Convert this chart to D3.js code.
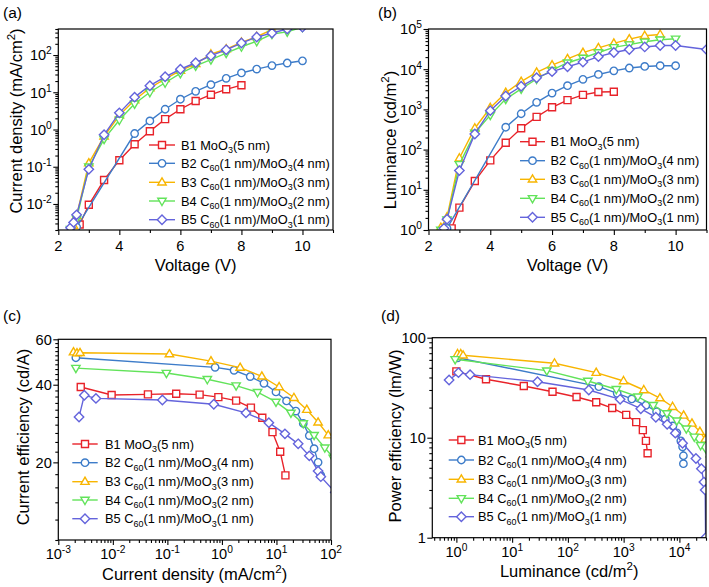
<!DOCTYPE html>
<html><head><meta charset="utf-8">
<script src="https://cdn.jsdelivr.net/npm/d3@7"></script>
<style>body{margin:0;background:#fff} text{font-family:"Liberation Sans",Arial,sans-serif;fill:#000}</style>
</head><body>
<script>
// ---------- DATA ----------
const legendLabels = [
  [["B1 MoO",""],["3","sub"],["(5 nm)",""]],
  [["B2 C",""],["60","sub"],["(1 nm)/MoO",""],["3","sub"],["(4 nm)",""]],
  [["B3 C",""],["60","sub"],["(1 nm)/MoO",""],["3","sub"],["(3 nm)",""]],
  [["B4 C",""],["60","sub"],["(1 nm)/MoO",""],["3","sub"],["(2 nm)",""]],
  [["B5 C",""],["60","sub"],["(1 nm)/MoO",""],["3","sub"],["(1 nm)",""]]
];
const colors = ["#e8232a","#3d7cc9","#f8b500","#62e35a","#6464dc"];

// (a) J-V
const aV1=[2.7,3,3.5,4,4.5,5,5.5,6,6.5,7,7.5,8];
const aJ1=[0.0028,0.0095,0.044,0.15,0.4,0.9,1.9,3.5,5.8,8.6,12,15.5];
const aV2=[2.6,4.5,5,5.5,6,6.5,7,7.5,8,8.5,9,9.5,10];
const aJ2=[0.0024,0.78,1.7,3.5,6.5,10.6,16,23.7,33,42,52,61,70];
const aV3=[2.4,2.5,2.6,3,3.5,4,4.5,5,5.5,6,6.5,7,7.5,8,8.5,9,9.5];
const aJ3=[0.0019,0.0026,0.0048,0.125,0.65,2.4,6.2,13,23,38,58,105,145,220,310,480,620];
const aV4=[2.4,2.6,3,3.5,4,4.5,5,5.5,6,6.5,7,7.5,8,8.5,9,9.5,10];
const aJ4=[0.0021,0.004,0.1,0.55,1.8,4.9,10,18,32,51,75,113,167,233,366,420,560];
const aV5=[2.4,2.5,2.6,3,3.5,4,4.5,5,5.5,6,6.5,7,7.5,8,8.5,9,9.5,10];
const aJ5=[0.0023,0.0032,0.0051,0.085,0.72,2.8,7.4,15,26,41.5,62,96,138,210,304,390,500,560];

// (b) L-V
const bV1=[2.75,3,3.5,4,4.5,5,5.5,6,6.5,7,7.5,8];
const bL1=[1.1,3.6,16.5,54,148,340,650,1130,1700,2300,2700,2750];
const bV2=[2.6,4.5,5,5.5,6,6.5,7,7.5,8,8.5,9,9.5,10];
const bL2=[1.1,360,780,1500,2550,3900,5600,7400,9100,10700,11700,12200,12200];
const bV3=[2.4,2.6,3,3.5,4,4.5,5,5.5,6,6.5,7,7.5,8,8.5,9,9.5];
const bL3=[1.15,2.1,61,340,1100,2600,4900,8300,12600,18000,25800,34000,44000,56000,68000,73000];
const bV4=[2.4,2.6,3,3.5,4,4.5,5,5.5,6,6.5,7,7.5,8,8.5,9,9.5,10];
const bL4=[1.0,1.8,43,260,720,1800,3250,5700,9500,14500,19000,26000,35000,41000,48000,54000,57000];
const bV5=[2.5,2.6,3,3.5,4,4.5,5,5.5,6,6.5,7,7.5,8,8.5,9,9.5,10,11];
const bL5=[1.1,1.85,30,245,930,2150,3760,6150,8700,11500,15000,20500,26000,31000,35800,39000,39000,31000];

// (c) CE-J
const cJ1=[0.00258,0.0095,0.044,0.145,0.39,0.86,1.82,3.4,5.5,8.45,11.7,14.6];
const cE1=[39.2,36.5,36.7,36.9,36.6,35.8,34.7,32.6,29.8,26.2,22,17.8];
const cJ2=[0.0021,0.75,1.67,3.3,5.9,9.8,15.3,22.7,31,40,49,58,65];
const cE2=[50.9,46.7,45.5,43,40.5,37.5,34.6,31.6,28.3,25.4,22.6,20,17.8];
const cJ3=[0.0019,0.0022,0.0025,0.109,0.63,2.16,5.4,11.2,20.9,36,58,89];
const cE3=[53.5,53,53.2,52.6,49.4,46.6,43.1,39.2,35.6,32,28.6,25.5];
const cJ4=[0.0021,0.096,0.54,1.82,4.5,9.8,18.4,31,49,77,110];
const cE4=[46.4,44.4,42,39.7,37.4,34.3,31.1,28.3,25.5,22.8,20.8];
const cJ5=[0.0024,0.003,0.0049,0.081,0.71,2.76,7.25,14.3,25,40,58,65,120];
const cE5=[30,36.4,35.4,34.9,33.6,31.1,28.5,25.8,23.6,21.2,18.5,17.6,15.3];

// (d) PE-L
const dL1=[1.0,3.4,16.2,53,143,322,624,1110,1680,2210,2510,2690];
const dP1=[46.1,38.4,32.9,28.8,25.5,22.6,19.8,16.9,14.3,11.9,9.3,7.0];
const dL2=[1.05,359,767,1400,2500,3900,5590,7650,9000,10600,11400,11800,11800];
const dP2=[63,32.4,27.8,24.4,21.1,18.2,15.3,13.1,11.2,9.3,8.1,6.6,5.5];
const dL3=[1.05,1.2,1.32,57.5,322,996,2300,4470,7550,11900,16800,23300,29000];
const dP3=[68.7,68.7,66.7,55.5,44.7,36.9,30,24.9,20.4,16.7,13.9,11.5,9.6];
const dL4=[0.95,41.9,228,740,1800,3400,5970,9000,13300,18500,24000,36000];
const dP4=[60.8,46.8,36.9,30.5,25.7,21.1,17.5,14.8,12.3,10.2,8.4,6.0];
const dL5=[0.74,1.09,1.76,28.5,237,865,2030,3780,6030,8440,11400,19800,24800,27500,29000,29500];
const dP5=[37.8,44.7,42.7,36.3,30,24.2,19.5,16,13.6,11.1,8.8,6.2,4.9,3.6,3.0,1.0];

// tick values
const linVoltMajor=[2,4,6,8,10], linVoltMinor=[3,5,7,9,11];
const aYMajor=[1e-2,1e-1,1,10,100];
const bYMajor=[1,10,100,1e3,1e4,1e5];
const cXMajor=[1e-3,1e-2,1e-1,1,10,100];
const cYMajor=[20,40,60];
const dXMajor=[1,10,100,1e3,1e4];
const dYMajor=[1,10,100];

// ---------- DRAW ----------
const W=709,H=587;
const svg=d3.select("body").append("svg").attr("width",W).attr("height",H);
const FONT_TICK=14.6, FONT_TITLE=16.5, FONT_LEG=12.8;

function rich(t, parts, fs){
  let off=0;
  parts.forEach(([s,k])=>{
    const ts=t.append("tspan").text(s);
    const target = k==="sup" ? -fs*0.4 : k==="sub" ? fs*0.28 : 0;
    ts.attr("dy", target-off); off=target;
    if(k) ts.attr("font-size", fs*0.7);
  });
}
function logMinor(dom){
  const out=[];
  const lo=Math.floor(Math.log10(dom[0])), hi=Math.ceil(Math.log10(dom[1]));
  for(let d=lo; d<=hi; d++) for(let k=2;k<=9;k++){const v=k*Math.pow(10,d); if(v>=dom[0]*0.999 && v<=dom[1]*1.001) out.push(v);}
  return out;
}
const powLab = v => [["10",""],[String(Math.round(Math.log10(v))),"sup"]];
const plainLab = v => [[String(v),""]];

const markerPaths=[
  "M-3.5,-3.5H3.5V3.5H-3.5Z",
  "M3.7,0A3.7,3.7 0 1 1 -3.7,0A3.7,3.7 0 1 1 3.7,0Z",
  "M0,-4.5L4.2,2.7L-4.2,2.7Z",
  "M0,4.5L4.2,-2.7L-4.2,-2.7Z",
  "M0,-4.7L4.7,0L0,4.7L-4.7,0Z"
];

const panels=[
 {id:"a", box:{l:58.3,r:333,t:29,b:230},
  x:d3.scaleLinear().domain([2,11]), y:d3.scaleLog().domain([0.002,500]),
  series:[[aV1,aJ1],[aV2,aJ2],[aV3,aJ3],[aV4,aJ4],[aV5,aJ5]],
  xMaj:linVoltMajor, xMin:linVoltMinor, xLab:plainLab,
  yMaj:aYMajor, yMin:null, yLab:powLab,
  xTitle:[["Voltage (V)",""]], xTitleY:270.5,
  yTitle:[["Current density (mA/cm",""],["2","sup"],[")",""]], yTitleX:22, yTitleC:121,
  leg:{x0:149,x1:175,tx:181,rows:[145,163.3,182.3,201,219.7]},
  tag:{x:3,y:18,t:"(a)"}, xLabY:250.5},
 {id:"b", box:{l:428.5,r:706.5,t:29,b:230},
  x:d3.scaleLinear().domain([2,11]), y:d3.scaleLog().domain([1,1e5]),
  series:[[bV1,bL1],[bV2,bL2],[bV3,bL3],[bV4,bL4],[bV5,bL5]],
  xMaj:linVoltMajor, xMin:linVoltMinor, xLab:plainLab,
  yMaj:bYMajor, yMin:null, yLab:powLab,
  xTitle:[["Voltage (V)",""]], xTitleY:270.5,
  yTitle:[["Luminance (cd/m",""],["2","sup"],[")",""]], yTitleX:396, yTitleC:140,
  leg:{x0:520,x1:545,tx:550.5,rows:[141.7,160.7,179.3,198.3,217.3]},
  tag:{x:378,y:18,t:"(b)"}, xLabY:250.5},
 {id:"c", box:{l:58.3,r:331,t:339.3,b:540},
  x:d3.scaleLog().domain([1e-3,100]), y:d3.scaleLog().domain([10,60]),
  series:[[cJ1,cE1],[cJ2,cE2],[cJ3,cE3],[cJ4,cE4],[cJ5,cE5]],
  xMaj:cXMajor, xMin:null, xLab:powLab,
  yMaj:cYMajor, yMin:d3.range(10,60,2).filter(v=>!cYMajor.includes(v)), yLab:plainLab,
  xTitle:[["Current density (mA/cm",""],["2","sup"],[")",""]], xTitleY:580,
  yTitle:[["Current efficiency (cd/A)",""]], yTitleX:29, yTitleC:437,
  leg:{x0:72.3,x1:97.7,tx:105,rows:[444,462.7,481.7,500,518.7]},
  tag:{x:3,y:321,t:"(c)"}, xLabY:559.3},
 {id:"d", box:{l:432.3,r:706,t:337.7,b:537.7},
  x:d3.scaleLog().domain([0.37,3e4]), y:d3.scaleLog().domain([1,100]),
  series:[[dL1,dP1],[dL2,dP2],[dL3,dP3],[dL4,dP4],[dL5,dP5]],
  xMaj:dXMajor, xMin:null, xLab:powLab,
  yMaj:dYMajor, yMin:null, yLab:plainLab,
  xTitle:[["Luminance (cd/m",""],["2","sup"],[")",""]], xTitleY:577,
  yTitle:[["Power efficiency (lm/W)",""]], yTitleX:401, yTitleC:436,
  leg:{x0:448.7,x1:474,tx:478,rows:[440,460,479.3,498.3,516.7]},
  tag:{x:381,y:321,t:"(d)"}, xLabY:556.5}
];

panels.forEach(p=>{
  const B=p.box;
  p.x.range([B.l,B.r]); p.y.range([B.b,B.t]);
  const g=svg.append("g");
  const clipId="clip-"+p.id;
  svg.append("clipPath").attr("id",clipId).append("rect")
    .attr("x",B.l).attr("y",B.t).attr("width",B.r-B.l).attr("height",B.b-B.t);

  // ticks
  const xMin = p.xMin || logMinor(p.x.domain());
  const yMin = p.yMin || logMinor(p.y.domain());
  const ax=(axis,vals,size)=>axis.tickValues(vals).tickSize(size).tickFormat("");
  g.append("g").attr("transform",`translate(0,${B.b})`).call(ax(d3.axisBottom(p.x),p.xMaj,5));
  g.append("g").attr("transform",`translate(0,${B.b})`).call(ax(d3.axisBottom(p.x),xMin,3));
  g.append("g").attr("transform",`translate(${B.l},0)`).call(ax(d3.axisLeft(p.y),p.yMaj,5));
  g.append("g").attr("transform",`translate(${B.l},0)`).call(ax(d3.axisLeft(p.y),yMin,3));
  g.selectAll(".domain").remove();
  g.selectAll(".tick line").attr("stroke","#000").attr("stroke-width",1.1);

  // tick labels
  p.xMaj.forEach(v=>{
    const t=g.append("text").attr("x",p.x(v)).attr("y",p.xLabY).attr("text-anchor","middle").attr("font-size",FONT_TICK);
    rich(t,p.xLab(v),FONT_TICK);
  });
  p.yMaj.forEach(v=>{
    const t=g.append("text").attr("x",B.l-6.5).attr("y",p.y(v)+5.3).attr("text-anchor","end").attr("font-size",FONT_TICK);
    rich(t,p.yLab(v),FONT_TICK);
  });

  // data
  const dg=g.append("g").attr("clip-path",`url(#${clipId})`);
  const line=d3.line().x(d=>p.x(d[0])).y(d=>p.y(d[1]));
  p.series.forEach((s,i)=>{
    const pts=s[0].map((v,j)=>[v,s[1][j]]);
    dg.append("path").attr("d",line(pts)).attr("fill","none").attr("stroke",colors[i]).attr("stroke-width",1.4);
    dg.selectAll(null).data(pts).enter().append("path")
      .attr("transform",d=>`translate(${p.x(d[0])},${p.y(d[1])})`)
      .attr("d",markerPaths[i]).attr("fill","#fff").attr("stroke",colors[i]).attr("stroke-width",1.4);
  });

  // frame
  g.append("rect").attr("x",B.l).attr("y",B.t).attr("width",B.r-B.l).attr("height",B.b-B.t)
    .attr("fill","none").attr("stroke","#000").attr("stroke-width",1.2);

  // titles
  const xt=g.append("text").attr("x",(B.l+B.r)/2).attr("y",p.xTitleY).attr("text-anchor","middle").attr("font-size",FONT_TITLE);
  rich(xt,p.xTitle,FONT_TITLE);
  const yt=g.append("text").attr("transform",`translate(${p.yTitleX},${p.yTitleC}) rotate(-90)`).attr("text-anchor","middle").attr("font-size",FONT_TITLE);
  rich(yt,p.yTitle,FONT_TITLE);
  g.append("text").attr("x",p.tag.x).attr("y",p.tag.y).attr("font-size",15.5).text(p.tag.t);

  // legend
  p.leg.rows.forEach((ry,i)=>{
    g.append("line").attr("x1",p.leg.x0).attr("x2",p.leg.x1).attr("y1",ry).attr("y2",ry).attr("stroke",colors[i]).attr("stroke-width",1.4);
    g.append("path").attr("transform",`translate(${(p.leg.x0+p.leg.x1)/2},${ry})`).attr("d",markerPaths[i])
      .attr("fill","#fff").attr("stroke",colors[i]).attr("stroke-width",1.4);
    const t=g.append("text").attr("x",p.leg.tx).attr("y",ry+4.6).attr("font-size",FONT_LEG);
    rich(t,legendLabels[i],FONT_LEG);
  });
});
</script>
</body></html>
